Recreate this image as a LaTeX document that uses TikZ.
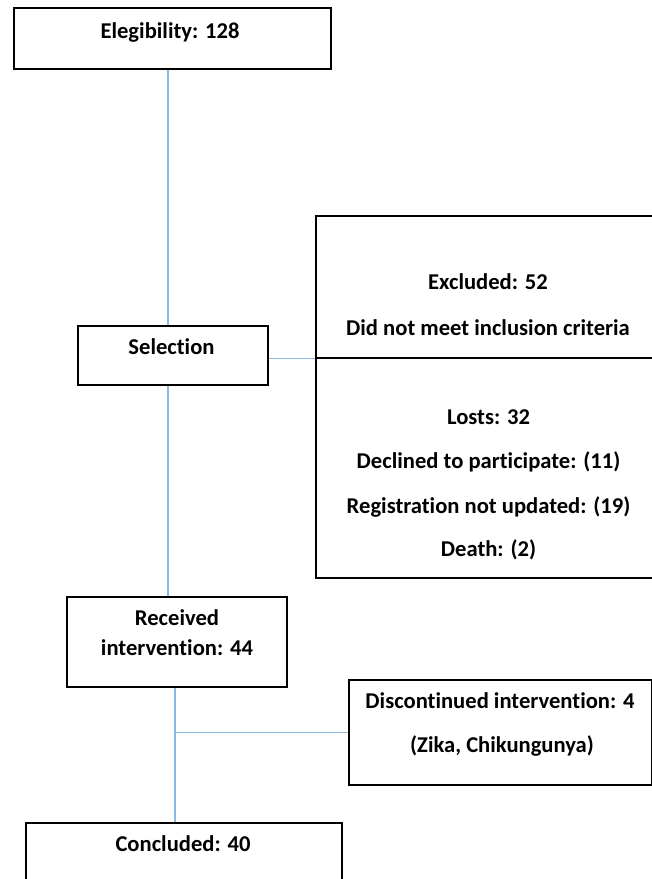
\documentclass[tikz,border=0pt]{standalone}
\usepackage{fontspec}
\setmainfont{Carlito}[Ligatures=NoCommon]
\begin{document}
\begin{tikzpicture}[x=1pt,y=-1pt,
  box/.style={draw=black, line width=1.6pt, rectangle, inner sep=0pt, anchor=north west},
  txt/.style={font=\fontsize{22.6}{26}\selectfont\bfseries, inner sep=0pt, anchor=center},
  link/.style={draw={rgb,255:red,140;green,185;blue,228}, line width=1.1pt}]
\useasboundingbox (0,0) rectangle (652,879);
\clip (0,0) rectangle (652,879);
% boxes
\node[box, minimum width=317pt, minimum height=61pt] (elig) at (13,7) {};
\node[box, minimum width=190pt, minimum height=59pt] (sel) at (77,325) {};
\node[box, minimum width=360pt, minimum height=142pt] (excl) at (315,215) {};
\node[box, minimum width=360pt, minimum height=220pt] (lost) at (315,357) {};
\node[box, minimum width=220pt, minimum height=90pt] (rec) at (66,596) {};
\node[box, minimum width=303pt, minimum height=105pt] (disc) at (348,679) {};
\node[box, minimum width=316pt, minimum height=90pt] (conc) at (25,822) {};
% texts
\node[txt] (eligt) at (170,32) {Elegibility: 128};
\node[txt] (selt) at (171.5,347) {Selection};
\node[txt] (exclt1) at (488,282) {Excluded: 52};
\node[txt] (exclt2) at (488,328) {Did not meet inclusion criteria};
\node[txt] (lostt1) at (488.5,417) {Losts: 32};
\node[txt] (lostt2) at (488.5,462) {Declined to participate: (11)};
\node[txt] (lostt3) at (488.5,507) {Registration not updated: (19)};
\node[txt] (lostt4) at (488.5,550) {Death: (2)};
\node[txt] (rect1) at (177,618) {Received};
\node[txt] (rect2) at (177,648) {intervention: 44};
\node[txt] (disct1) at (500,701) {Discontinued intervention: 4};
\node[txt] (disct2) at (502,746) {(Zika, Chikungunya)};
\node[txt] (conct) at (183,844) {Concluded: 40};
% connectors
\coordinate (vx) at (168,0);
\coordinate (vy) at (175,0);
\draw[link] (elig.south -| vx) -- (sel.north -| vx);
\draw[link] (sel.south -| vx) -- (rec.north -| vx);
\draw[link] (sel.east |- excl.south) -- (excl.south west);
\draw[link] (rec.south -| vy) -- (conc.north -| vy);
\coordinate (br) at (vy |- disc.west);
\draw[link] (br) -- (disc.west);
\end{tikzpicture}
\end{document}
